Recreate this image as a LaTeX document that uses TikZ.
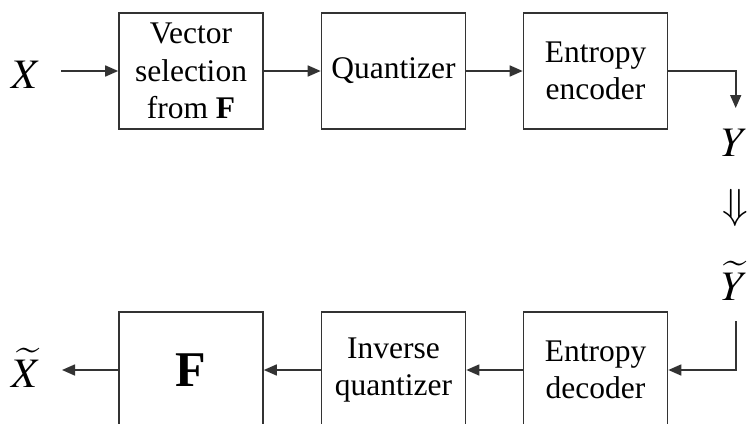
\documentclass[tikz,border=0pt]{standalone}
\usepackage{mathptmx}
\usepackage{fontspec}
\setmainfont{Liberation Serif}
\usetikzlibrary{arrows.meta}
\tikzset{
  blk/.style={draw=black!80, line width=1.6pt, minimum width=144pt, minimum height=116pt,
    inner sep=0pt, align=center, font=\fontsize{31.5}{37.5}\selectfont},
  sig/.style={inner sep=0pt, font=\fontsize{42}{44}\selectfont},
  conn/.style={line width=1.6pt, draw=black!80, -{Triangle[length=13pt,width=11pt]}}
}
\begin{document}
\begin{tikzpicture}[x=1pt,y=-1pt]
  \useasboundingbox (0,0) rectangle (749,423);
  \clip (0,0) rectangle (749,423);

  % encoder chain
  \node[blk] (vsel) at (191,71) {Vector\\selection\\from \textbf{F}};
  \node[blk] (quant) at (393.5,71) {Quantizer};
  \node[blk] (enc) at (595.5,71) {Entropy\\encoder};

  % decoder chain
  \node[blk] (fbox) at (191,370) {\fontsize{50}{50}\selectfont\textbf{F}};
  \node[blk] (iquant) at (393.5,370) {Inverse\\quantizer};
  \node[blk] (dec) at (595.5,370) {Entropy\\decoder};

  % signals
  \node[sig] (x) at (26,75) {$X$};
  \node[sig] (y) at (735,143) {$Y$};
  \node[sig] (chan) at (735,208) {$\Downarrow$};
  \node[sig] (yt) at (735,281) {$\widetilde{Y}$};
  \node[sig] (xt) at (26,368) {$\widetilde{X}$};

  \coordinate (xin) at (61,71);
  \coordinate (ytip) at (735.7,108);
  \coordinate (ystart) at (735.7,321);
  \coordinate (xout) at (62,370);

  \draw[conn] (xin) -- (vsel);
  \draw[conn] (vsel) -- (quant);
  \draw[conn] (quant) -- (enc);
  \draw[conn] (enc.east) -| (ytip);

  \draw[conn] (ystart) |- (dec.east);
  \draw[conn] (dec) -- (iquant);
  \draw[conn] (iquant) -- (fbox);
  \draw[conn] (fbox.west) -- (xout);
\end{tikzpicture}
\end{document}
